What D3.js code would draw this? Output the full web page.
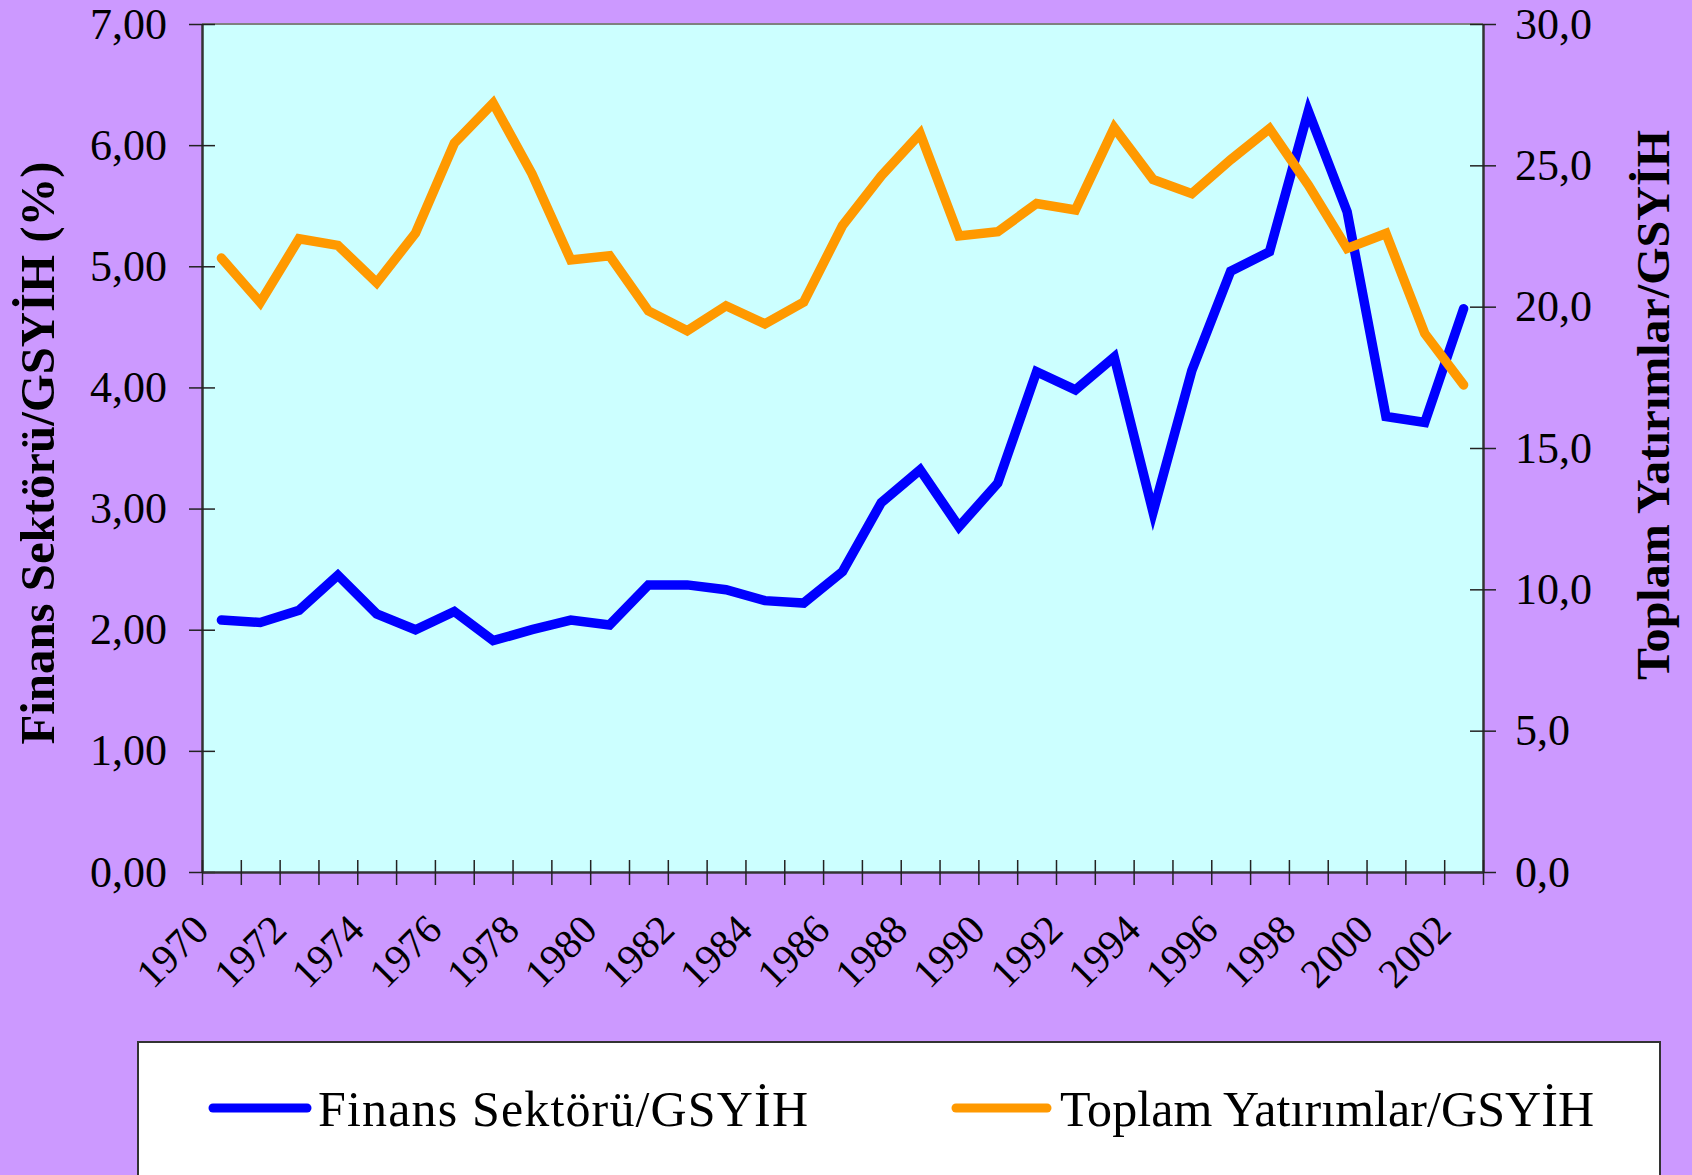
<!DOCTYPE html>
<html>
<head>
<meta charset="utf-8">
<script src="https://cdn.jsdelivr.net/npm/d3@7"></script>
<style>
  body { margin: 0; background: #CC99FF; }
  svg { display: block; }
  text { font-family: "Liberation Serif", "Times New Roman", serif; }
</style>
</head>
<body>
<script>
const years = [1970, 1971, 1972, 1973, 1974, 1975, 1976, 1977, 1978, 1979, 1980,
    1981, 1982, 1983, 1984, 1985, 1986, 1987, 1988, 1989, 1990, 1991, 1992,
    1993, 1994, 1995, 1996, 1997, 1998, 1999, 2000, 2001, 2002];
// left axis series (%)
const finans = [2.08, 2.06, 2.16, 2.45, 2.13, 2.00, 2.15, 1.91, 2.00, 2.08, 2.04,
    2.37, 2.37, 2.33, 2.24, 2.22, 2.48, 3.05, 3.32, 2.85, 3.21, 4.13, 3.98,
    4.25, 2.97, 4.14, 4.96, 5.12, 6.28, 5.45, 3.76, 3.71, 4.65];
// right axis series
const yatirim = [21.72, 20.15, 22.40, 22.17, 20.85, 22.60, 25.78, 27.20, 24.70, 21.65, 21.80,
    19.85, 19.15, 20.03, 19.39, 20.16, 22.87, 24.63, 26.12, 22.50, 22.65, 23.65, 23.42,
    26.33, 24.50, 24.00, 25.20, 26.30, 24.30, 22.06, 22.59, 19.05, 17.23];
const leftTicks = [0, 1, 2, 3, 4, 5, 6, 7];
const rightTicks = [0, 5, 10, 15, 20, 25, 30];
const yearLabels = [1970, 1972, 1974, 1976, 1978, 1980, 1982, 1984, 1986, 1988,
    1990, 1992, 1994, 1996, 1998, 2000, 2002];
const seriesNames = ["Finans Sektörü/GSYİH", "Toplam Yatırımlar/GSYİH"];
const seriesColors = ["#0000FF", "#FF9900"];

const W = 1692, H = 1175;
const plot = {left: 202, right: 1483, top: 24, bottom: 872};

const svg = d3.select('body').append('svg')
    .attr('width', W)
    .attr('height', H);

svg.append('rect').attr('width', W).attr('height', H).attr('fill', '#CC99FF');
svg.append('rect')
    .attr('x', plot.left).attr('y', plot.top)
    .attr('width', plot.right - plot.left).attr('height', plot.bottom - plot.top)
    .attr('fill', '#CCFFFF');
svg.append('line')
    .attr('x1', plot.left).attr('x2', plot.right)
    .attr('y1', plot.top).attr('y2', plot.top)
    .attr('stroke', '#808080').attr('stroke-width', 2);

const x = d3.scaleBand().domain(years).range([plot.left, plot.right]).padding(0);
const xEdge = d3.scaleLinear().domain([0, years.length]).range([plot.left, plot.right]);
const yL = d3.scaleLinear().domain([0, 7]).range([plot.bottom, plot.top]);
const yR = d3.scaleLinear().domain([0, 30]).range([plot.bottom, plot.top]);

const comma = f => d => f(d).replace('.', ',');

// left axis
const gL = svg.append('g')
    .attr('transform', `translate(${plot.left},0)`)
    .call(d3.axisLeft(yL).tickValues(leftTicks).tickSize(13).tickSizeOuter(0)
        .tickPadding(22).tickFormat(comma(d3.format('.2f'))));
gL.selectAll('.tick line').attr('x1', 13).attr('stroke', '#222').attr('stroke-width', 1.5);

// right axis
const gR = svg.append('g')
    .attr('transform', `translate(${plot.right},0)`)
    .call(d3.axisRight(yR).tickValues(rightTicks).tickSize(13).tickSizeOuter(0)
        .tickPadding(19).tickFormat(comma(d3.format('.1f'))));
gR.selectAll('.tick line').attr('x1', -13).attr('stroke', '#222').attr('stroke-width', 1.5);

// bottom axis: ticks at band edges
const gB = svg.append('g')
    .attr('transform', `translate(0,${plot.bottom})`)
    .call(d3.axisBottom(xEdge).tickValues(d3.range(years.length + 1)).tickSize(13)
        .tickSizeOuter(0).tickFormat(''));
gB.selectAll('.tick line').attr('y1', -12).attr('stroke', '#222').attr('stroke-width', 1.5);

[gL, gR, gB].forEach(g => {
    g.select('.domain').attr('stroke', '#333').attr('stroke-width', 2.5);
    g.selectAll('.tick text').attr('fill', '#000').style('font-size', '44px')
        .style('font-family', '"Liberation Serif", serif');
});

// year labels
svg.append('g').selectAll('text')
    .data(yearLabels)
    .enter().append('text')
    .attr('transform', d => `translate(${x(d) + 9},${plot.bottom + 60}) rotate(-45)`)
    .attr('text-anchor', 'end')
    .style('font-size', '41px')
    .text(d => d);

// lines
const series = [finans, yatirim];
const scales = [yL, yR];
series.forEach((vals, i) => {
    const line = d3.line()
        .x((d, j) => x(years[j]) + x.bandwidth() / 2)
        .y(d => scales[i](d));
    svg.append('path')
        .datum(vals)
        .attr('fill', 'none')
        .attr('stroke', seriesColors[i])
        .attr('stroke-width', 9.5)
        .attr('stroke-linejoin', 'miter')
        .attr('stroke-linecap', 'round')
        .attr('d', line);
});

// axis titles
svg.append('text')
    .attr('transform', 'translate(54,453) rotate(-90)')
    .attr('text-anchor', 'middle')
    .attr('textLength', 583).attr('lengthAdjust', 'spacingAndGlyphs')
    .style('font-size', '48px').style('font-weight', 'bold')
    .text('Finans Sektörü/GSYİH (%)');
svg.append('text')
    .attr('transform', 'translate(1669,405) rotate(-90)')
    .attr('text-anchor', 'middle')
    .attr('textLength', 550).attr('lengthAdjust', 'spacingAndGlyphs')
    .style('font-size', '47px').style('font-weight', 'bold')
    .text('Toplam Yatırımlar/GSYİH');

// legend
svg.append('rect')
    .attr('x', 138).attr('y', 1042).attr('width', 1522).attr('height', 200)
    .attr('fill', '#fff').attr('stroke', '#333').attr('stroke-width', 2);
const legendPos = [{x1: 213, x2: 307, tx: 318, w: 490}, {x1: 956, x2: 1047, tx: 1060, w: 534}];
seriesNames.forEach((name, i) => {
    const p = legendPos[i];
    svg.append('line')
        .attr('x1', p.x1).attr('x2', p.x2).attr('y1', 1108).attr('y2', 1108)
        .attr('stroke', seriesColors[i]).attr('stroke-width', 9)
        .attr('stroke-linecap', 'round');
    svg.append('text')
        .attr('x', p.tx).attr('y', 1126)
        .attr('textLength', p.w).attr('lengthAdjust', 'spacing')
        .style('font-size', '50px')
        .text(name);
});
</script>
</body>
</html>
